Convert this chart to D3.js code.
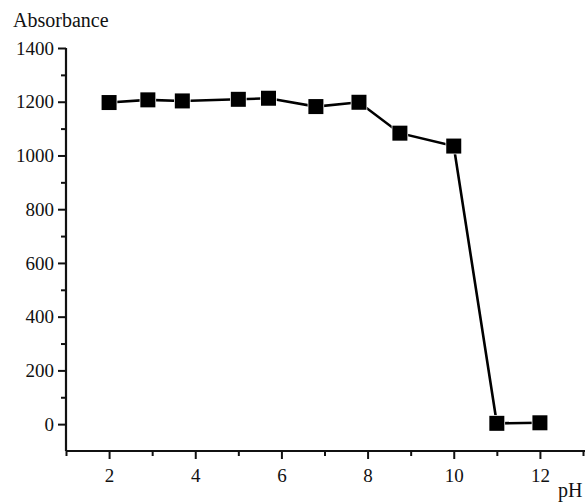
<!DOCTYPE html>
<html>
<head>
<meta charset="utf-8">
<script src="https://cdn.jsdelivr.net/npm/d3@7"></script>
<style>
  html, body { margin: 0; padding: 0; background: #fff; }
  svg { display: block; }
  text { font-family: "Liberation Serif", "Times New Roman", "DejaVu Serif", serif; fill: #111; }
</style>
</head>
<body>
<svg id="chart" width="585" height="503"></svg>
<script>
// Absorbance measured across pH
const phValues = [2, 2.9, 3.7, 5, 5.7, 6.8, 7.8, 8.75, 10, 11, 12];
const absorbance = [1197, 1207, 1203, 1209, 1213, 1182, 1198, 1083, 1035, 3, 5];
const xMajorTicks = [2, 4, 6, 8, 10, 12];
const xMinorTicks = [1, 3, 5, 7, 9, 11, 13];
const yMajorTicks = [0, 200, 400, 600, 800, 1000, 1200, 1400];
const yMinorTicks = [100, 300, 500, 700, 900, 1100, 1300];
const xTitle = "pH";
const yTitle = "Absorbance";

const svg = d3.select("#chart");
const plotLeft = 66, plotRight = 583, plotTop = 48, plotBottom = 451;
const serif = "'Liberation Serif', 'Times New Roman', 'DejaVu Serif', serif";

const x = d3.scaleLinear().domain([1, 13]).range([plotLeft, plotRight]);
const y = d3.scaleLinear().domain([-100, 1400]).range([plotBottom, plotTop]);

const fontSize = "19px";

// x axis: major ticks labelled, minor ticks between
const gx = svg.append("g").attr("transform", `translate(0,${plotBottom})`);
gx.call(d3.axisBottom(x).tickValues(xMajorTicks).tickSize(8).tickPadding(10).tickFormat(d3.format("d")));
gx.append("g").call(d3.axisBottom(x).tickValues(xMinorTicks).tickSize(5).tickFormat(""))
  .select(".domain").remove();

// y axis
const gy = svg.append("g").attr("transform", `translate(${plotLeft},0)`);
gy.call(d3.axisLeft(y).tickValues(yMajorTicks).tickSize(8).tickPadding(4).tickFormat(d3.format("d")));
gy.append("g").call(d3.axisLeft(y).tickValues(yMinorTicks).tickSize(5).tickFormat(""))
  .select(".domain").remove();

gx.attr("font-family", serif).attr("font-size", 19);
gy.attr("font-family", serif).attr("font-size", 19);
svg.selectAll(".domain").attr("stroke", "#111").attr("stroke-width", 2.2);
svg.selectAll(".tick line").attr("stroke", "#111").attr("stroke-width", 2);
svg.selectAll(".tick text")
  .style("font-family", serif)
  .style("font-size", fontSize)
  .attr("fill", "#111");
gx.selectAll(".domain").attr("d", `M${plotLeft},0H${plotRight + 2}`);
gy.selectAll(".domain").attr("d", `M0,${plotTop}V${plotBottom}`);

// axis titles
svg.append("text").attr("x", 13).attr("y", 27)
  .style("font-family", serif)
  .style("font-size", "20px").text(yTitle);
svg.append("text").attr("x", 558).attr("y", 497)
  .style("font-family", serif)
  .style("font-size", "20px").text(xTitle);

// data line
const pts = phValues.map((p, i) => [p, absorbance[i]]);
svg.append("path")
  .datum(pts)
  .attr("fill", "none")
  .attr("stroke", "#000")
  .attr("stroke-width", 2.6)
  .attr("d", d3.line().x(d => x(d[0])).y(d => y(d[1])));

// square markers
const m = 15;
svg.selectAll("rect.pt")
  .data(pts)
  .join("rect")
  .attr("class", "pt")
  .attr("x", d => x(d[0]) - m / 2)
  .attr("y", d => y(d[1]) - m / 2)
  .attr("width", m)
  .attr("height", m)
  .attr("fill", "#000")
  .attr("stroke", "#fff")
  .attr("stroke-width", 1.5)
  .attr("paint-order", "stroke");
</script>
</body>
</html>
